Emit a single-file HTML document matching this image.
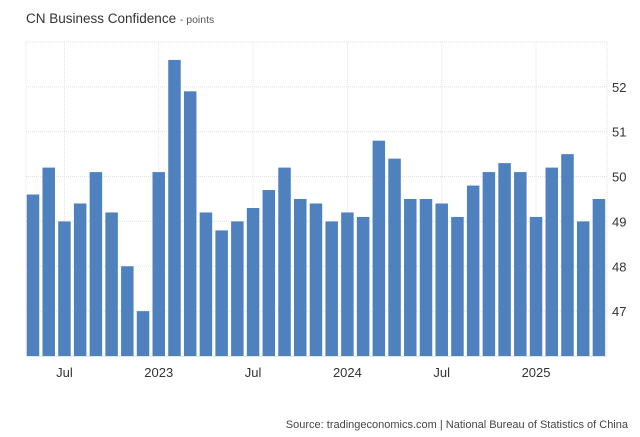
<!DOCTYPE html>
<html><head><meta charset="utf-8"><style>
body{margin:0;background:#fff;font-family:"Liberation Sans",Arial,sans-serif;}
svg{display:block}
</style></head><body>
<svg width="640" height="437" id="c">
<text x="26" y="23" font-size="13.5" fill="#333">CN Business Confidence <tspan font-size="10.5" fill="#555">- points</tspan></text>
<text x="628" y="428" font-size="11" fill="#444" text-anchor="end">Source: tradingeconomics.com | National Bureau of Statistics of China</text>
</svg>
<script>
const categories=["2022-05","2022-06","2022-07","2022-08","2022-09","2022-10","2022-11","2022-12","2023-01","2023-02","2023-03","2023-04","2023-05","2023-06","2023-07","2023-08","2023-09","2023-10","2023-11","2023-12","2024-01","2024-02","2024-03","2024-04","2024-05","2024-06","2024-07","2024-08","2024-09","2024-10","2024-11","2024-12","2025-01","2025-02","2025-03","2025-04","2025-05"];
const values=[49.6,50.2,49.0,49.4,50.1,49.2,48.0,47.0,50.1,52.6,51.9,49.2,48.8,49.0,49.3,49.7,50.2,49.5,49.4,49.0,49.2,49.1,50.8,50.4,49.5,49.5,49.4,49.1,49.8,50.1,50.3,50.1,49.1,50.2,50.5,49.0,49.5];
const yTicks=[47,48,49,50,51,52];
const xTickIdx=[2,8,14,20,26,32];
const xTickLabels=["Jul","2023","Jul","2024","Jul","2025"];
const yMin=46,yMax=53;
const L=26,R=607,T=42,B=356;
const step=15.72,x0=33,bw=12.5;
const svg=document.getElementById('c');
const NS="http://www.w3.org/2000/svg";
const X=i=>x0+i*step;
const Y=v=>B-(v-yMin)/(yMax-yMin)*(B-T);
function mk(t,a){const e=document.createElementNS(NS,t);for(const k in a)e.setAttribute(k,a[k]);svg.appendChild(e);return e;}
const gridTop=mk('line',{x1:L,x2:R,y1:T,y2:T,stroke:'#e3e3e3','stroke-dasharray':'1,1'});


yTicks.forEach(v=>{
 const g=mk('line',{x1:L,x2:R,y1:Y(v),y2:Y(v),stroke:'#e0e0e0','stroke-dasharray':'1,1'});
 
 
 const t=mk('text',{x:612,y:Y(v)+5,'font-size':13,fill:'#333'});
 t.textContent=v;
 
 
});
[L,R].forEach(x=>{const g=mk('line',{x1:x,x2:x,y1:T,y2:B,stroke:'#e3e3e3','stroke-dasharray':'1,1'});
 
 });
xTickIdx.forEach((i,k)=>{
 const g=mk('line',{x1:X(i),x2:X(i),y1:T,y2:B,stroke:'#e3e3e3','stroke-dasharray':'1,1'});
 
 
 const t=mk('text',{x:X(i),y:377,'font-size':13,fill:'#333','text-anchor':'middle'});
 t.textContent=xTickLabels[k];
 
 
});
values.forEach((v,i)=>{
 const r=mk('rect',{x:X(i)-bw/2,y:Y(v),width:bw,height:B-Y(v),fill:'#4e81bd'});
 
 
});
const ax=mk('line',{x1:L,x2:R,y1:B+0.5,y2:B+0.5,stroke:'#dfe8f2'});


</script>
</body></html>
